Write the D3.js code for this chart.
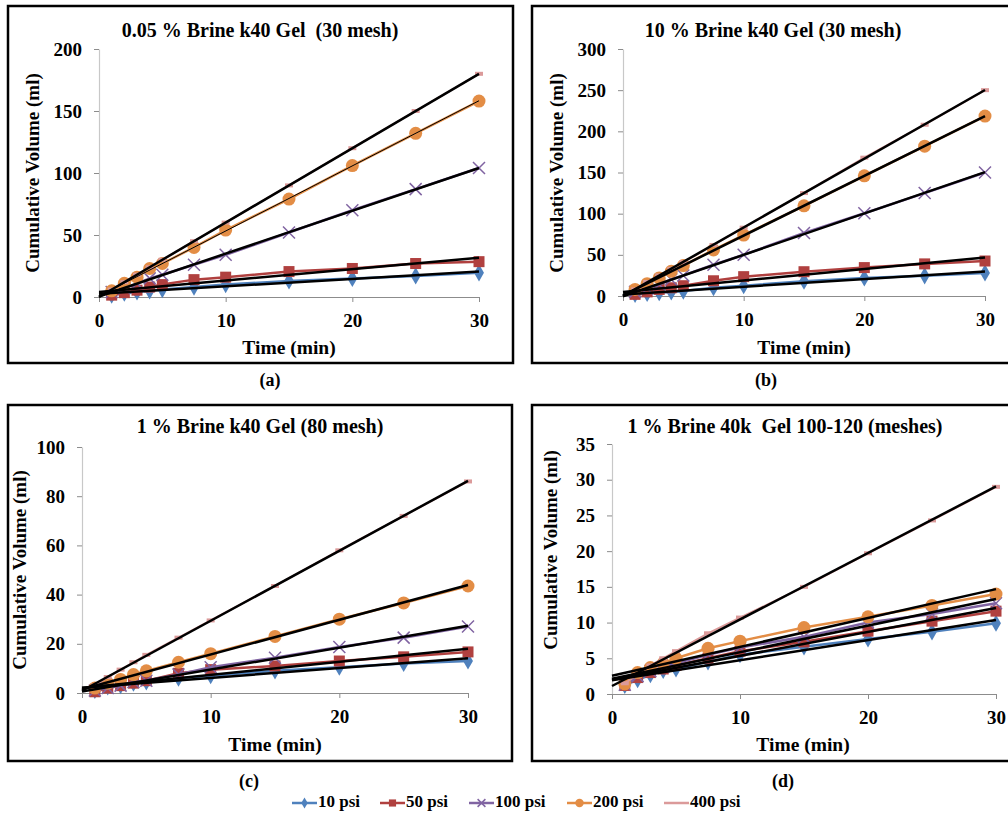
<!DOCTYPE html>
<html>
<head>
<meta charset="utf-8">
<script src="https://cdn.jsdelivr.net/npm/d3@7"></script>
<style>
  body { margin: 0; background: #fff; }
  svg text { font-family: "Liberation Serif", "Times New Roman", serif; font-weight: bold; fill: #000; white-space: pre; }
</style>
</head>
<body>
<svg id="chart" width="1008" height="818"></svg>
<script>
// sampling times (min), shared by all panels
const times = [1, 2, 3, 4, 5, 7.5, 10, 15, 20, 25, 30];
const xTicks = [0, 10, 20, 30];

const seriesNames = ['10 psi', '50 psi', '100 psi', '200 psi', '400 psi'];
const seriesColors = ['#4F81BD', '#B0403F', '#8064A2', '#E38D45', '#DB9A9A'];
const seriesMarkers = ['diamond', 'square', 'cross', 'circle', 'dash'];

const panelTitles = [
  '0.05 % Brine k40 Gel  (30 mesh)',
  '10 % Brine k40 Gel (30 mesh)',
  '1 % Brine k40 Gel (80 mesh)',
  '1 % Brine 40k  Gel 100-120 (meshes)'
];
const panelLetters = ['(a)', '(b)', '(c)', '(d)'];
const yMaxes = [200, 300, 100, 35];
const yTickSteps = [50, 50, 20, 5];

// (a) 0.05 % brine, 30 mesh
const a10 = [1.5, 3, 4, 5, 6, 8, 10, 13, 15, 17, 19.5];
const a50 = [1.5, 3.5, 5.5, 8, 10, 14, 16, 20.5, 23, 27, 28.5];
const a100 = [4, 7, 11, 15, 18, 26, 34, 52, 70, 87, 104];
const a200 = [5, 11, 16, 23, 27, 40, 54, 79, 106, 132, 158];
const a400 = [6, 12, 18, 24, 30, 45, 60, 90, 120, 150, 180];

// (b) 10 % brine, 30 mesh
const b10 = [2, 3, 4, 5, 6, 10, 12.5, 18, 22, 24.5, 28];
const b50 = [2, 5, 8, 10, 12.5, 18.5, 23.5, 29.5, 34.5, 39, 42.5];
const b100 = [5, 9, 14, 20, 25, 38, 50, 76.5, 100.5, 125, 150];
const b200 = [8, 15, 22, 30, 37, 56, 74, 109.5, 146, 182, 218.5];
const b400 = [8, 17, 25, 33, 41, 62, 83, 125, 168, 208, 250];

// (c) 1 % brine, 80 mesh
const c10 = [1, 2.5, 3, 4, 4.5, 6, 7, 9, 10.5, 12, 13];
const c50 = [0.5, 2, 3, 4, 5, 8, 9.5, 11, 13, 14.7, 16.7];
const c100 = [1, 2, 3, 4.5, 5, 7.5, 10.5, 14.3, 18.7, 22.5, 27];
const c200 = [2, 4, 5.5, 7.5, 9, 12.5, 16, 23, 30, 36.6, 43.5];
const c400 = [3, 6.5, 9.5, 12.5, 15.5, 22.5, 29.5, 43.5, 58, 72, 86];

// (d) 1 % brine, 100-120 mesh
const d10 = [1.2, 2, 2.7, 3.3, 3.5, 4.5, 5.5, 6.6, 7.7, 8.7, 9.9];
const d50 = [1.2, 2.3, 3, 3.5, 4, 5, 6, 7.3, 8.8, 10.2, 11.6];
const d100 = [1.3, 2.5, 3.2, 3.8, 4.3, 5.5, 6.5, 8, 10, 11.2, 12.7];
const d200 = [1.4, 3, 3.7, 4.3, 5, 6.4, 7.4, 9.3, 10.8, 12.4, 14];
const d400 = [1.5, 2.7, 4, 5, 6, 8.5, 10.7, 15, 19.7, 24.3, 29];

const panelSeries = [
  [a10, a50, a100, a200, a400],
  [b10, b50, b100, b200, b400],
  [c10, c50, c100, c200, c400],
  [d10, d50, d100, d200, d400]
];

// layout of the four framed panels
const layout = [
  { box: [8, 6, 505, 357], plot: [99, 479, 49, 297], title: [260, 32], yTitle: [35, 173], xTitle: [289, 350], letter: [270, 382] },
  { box: [532, 6, 500, 357], plot: [623, 985, 49, 296], title: [773, 32], yTitle: [559, 173], xTitle: [804, 350], letter: [766, 382] },
  { box: [8, 405, 504, 356], plot: [82, 468, 447, 693], title: [260, 428], yTitle: [22, 570], xTitle: [275, 747], letter: [249, 783] },
  { box: [532, 405, 500, 356], plot: [612, 996, 444, 694], title: [785, 428], yTitle: [553, 550], xTitle: [803, 747], letter: [783, 783] }
];

const svg = d3.select('#chart');

function drawMarker(g, type, color, k) {
  k = k || 1;
  if (type === 'diamond') {
    g.append('path').attr('d', d3.symbol(d3.symbolDiamond, 85 * k * k)()).attr('fill', color);
  } else if (type === 'square') {
    g.append('rect').attr('x', -5.5 * k).attr('y', -5.5 * k).attr('width', 11 * k).attr('height', 11 * k).attr('fill', color);
  } else if (type === 'cross') {
    let r = 6 * k;
    g.append('path').attr('d', `M${-r},${-r}L${r},${r}M${-r},${r}L${r},${-r}`).attr('stroke', color).attr('stroke-width', 1.5);
  } else if (type === 'circle') {
    g.append('circle').attr('r', 6.5 * k).attr('fill', color);
  } else {
    g.append('rect').attr('x', -4).attr('y', -2).attr('width', 8).attr('height', 4).attr('fill', color);
  }
}

// least-squares fit, drawn as the black trend line
function fit(xs, ys) {
  let mx = d3.mean(xs), my = d3.mean(ys);
  let sxy = d3.sum(xs, (x, i) => (x - mx) * (ys[i] - my));
  let sxx = d3.sum(xs, x => (x - mx) * (x - mx));
  let slope = sxy / sxx;
  return { slope: slope, intercept: my - slope * mx };
}

layout.forEach((L, p) => {
  let [bx, by, bw, bh] = L.box;
  svg.append('rect')
    .attr('x', bx).attr('y', by).attr('width', bw).attr('height', bh)
    .attr('fill', 'none').attr('stroke', '#000').attr('stroke-width', 2.5);

  let [left, right, top, bottom] = L.plot;
  let x = d3.scaleLinear().domain([0, 30]).range([left, right]);
  let y = d3.scaleLinear().domain([0, yMaxes[p]]).range([bottom, top]);
  let yTicks = d3.range(0, yMaxes[p] + 0.001, yTickSteps[p]);

  let g = svg.append('g');

  let yAxis = g.append('g')
    .attr('transform', `translate(${left},0)`)
    .call(d3.axisLeft(y).tickValues(yTicks).tickSize(5).tickSizeOuter(0).tickPadding(12));
  yAxis.select('.domain').attr('stroke', '#C8C8C8').attr('stroke-width', 1.2);
  yAxis.selectAll('.tick line').attr('stroke', '#8C8C8C');

  let xAxis = g.append('g')
    .attr('transform', `translate(0,${bottom})`)
    .call(d3.axisBottom(x).tickValues(xTicks).tickSize(5).tickSizeOuter(0).tickPadding(12));
  xAxis.select('.domain').attr('stroke', '#8C8C8C').attr('stroke-width', 1.2);
  xAxis.selectAll('.tick line').attr('stroke', '#8C8C8C');

  g.selectAll('.tick text')
    .style('font-family', '"Liberation Serif", serif')
    .style('font-weight', 'bold')
    .style('font-size', '19px')
    .attr('fill', '#000');

  let line = d3.line().x(d => x(d[0])).y(d => y(d[1]));

  panelSeries[p].forEach((vals, s) => {
    let pts = times.map((t, i) => [t, vals[i]]);
    g.append('path')
      .attr('d', line(pts))
      .attr('fill', 'none')
      .attr('stroke', seriesColors[s])
      .attr('stroke-width', s === 4 ? 2 : 2.5);
    pts.forEach(d => {
      let m = g.append('g').attr('transform', `translate(${x(d[0])},${y(d[1])})`);
      drawMarker(m, seriesMarkers[s], seriesColors[s]);
    });
  });

  // trend lines on top
  panelSeries[p].forEach((vals, s) => {
    let f = fit(times, vals);
    g.append('path')
      .attr('d', line([[0, f.intercept], [30, f.intercept + f.slope * 30]]))
      .attr('fill', 'none')
      .attr('stroke', '#000')
      .attr('stroke-width', (p === 0 && s === 3) ? 1 : 2.5);
  });

  svg.append('text')
    .attr('x', L.title[0]).attr('y', L.title[1])
    .attr('text-anchor', 'middle').attr('dominant-baseline', 'middle')
    .style('font-size', '20px')
    .text(panelTitles[p]);

  svg.append('text')
    .attr('transform', `translate(${L.yTitle[0]},${L.yTitle[1]}) rotate(-90)`)
    .attr('text-anchor', 'middle').attr('dominant-baseline', 'middle')
    .style('font-size', '19px')
    .text('Cumulative Volume (ml)');

  svg.append('text')
    .attr('x', L.xTitle[0]).attr('y', L.xTitle[1])
    .attr('text-anchor', 'middle').attr('dominant-baseline', 'middle')
    .style('font-size', '19.5px')
    .text('Time (min)');

  svg.append('text')
    .attr('x', L.letter[0]).attr('y', L.letter[1])
    .attr('text-anchor', 'middle').attr('dominant-baseline', 'middle')
    .style('font-size', '18px')
    .text(panelLetters[p]);
});

// legend along the bottom
const legendX = [292, 380, 469, 567, 664];
const legendY = 803;
seriesNames.forEach((name, s) => {
  let lg = svg.append('g').attr('transform', `translate(${legendX[s]},${legendY})`);
  lg.append('line').attr('x1', 0).attr('x2', 25).attr('y1', 0).attr('y2', 0)
    .attr('stroke', seriesColors[s]).attr('stroke-width', 2.5);
  if (s !== 4) {
    let m = lg.append('g').attr('transform', 'translate(12.5,0)');
    drawMarker(m, seriesMarkers[s], seriesColors[s], 0.65);
  }
  lg.append('text')
    .attr('x', 26).attr('y', 0)
    .attr('dominant-baseline', 'middle')
    .style('font-size', '17px')
    .text(name);
});
</script>
</body>
</html>
